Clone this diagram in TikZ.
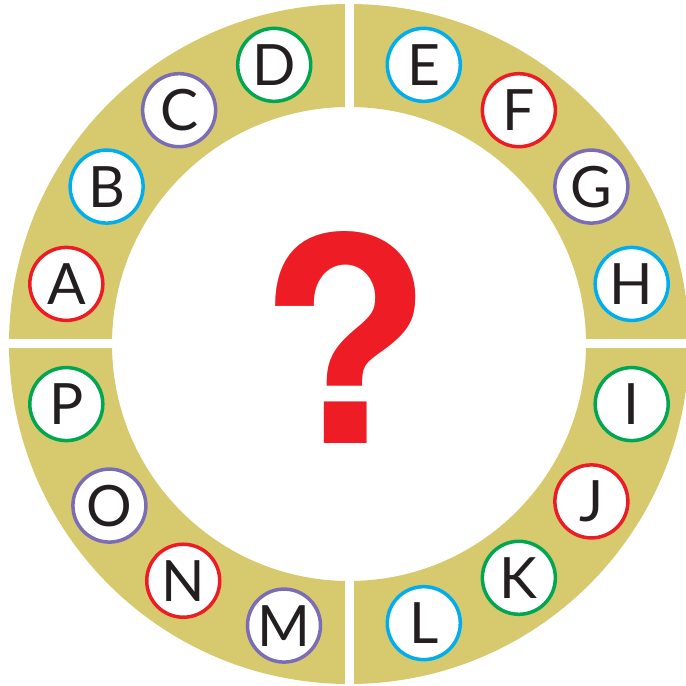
\documentclass[tikz,border=0pt]{standalone}
\usepackage{fontspec}
\setmainfont{Lato}
\newfontfamily\qfont{TeX Gyre Heros}
\definecolor{ringcol}{HTML}{D6C96E}
\definecolor{bred}{HTML}{ED1C24}
\definecolor{bgreen}{HTML}{00A651}
\definecolor{bblue}{HTML}{00AEEF}
\definecolor{bpurple}{HTML}{7B6DB5}
\definecolor{letter}{HTML}{231F20}
\definecolor{qred}{HTML}{EE1D25}
\tikzset{
  badge/.style={circle, draw=#1, fill=white, line width=3.5pt, minimum size=73pt, inner sep=0pt,
    text=letter, font=\fontsize{57}{57}\selectfont},
}
\begin{document}
\begin{tikzpicture}[x=1pt,y=1pt]
\useasboundingbox (0,0) rectangle (686,686);
\clip (0,0) rectangle (686,686);
\coordinate (C) at (349,342);
\fill[ringcol, even odd rule] (C) circle (340) (C) circle (237);
\fill[white] (344.5,0) rectangle (353.5,686);
\fill[white] (0,337.7) rectangle (686,346.7);
\foreach \ang/\lab/\col in {168/A/bred, 147/B/bblue, 126/C/bpurple, 105/D/bgreen,
  75/E/bblue, 54/F/bred, 33/G/bpurple, 12/H/bblue,
  -12/I/bgreen, -33/J/bred, -54/K/bgreen, -75/L/bblue,
  -103/M/bpurple, -125/N/bred, -146/O/bpurple, -168/P/bgreen}
  \node[badge=\col] (n\lab) at ([shift={(C)}]\ang:289) {\lab};
\node[text=qred, inner sep=0pt, font=\qfont\bfseries\fontsize{285}{285}\selectfont] (q) at (346,349) {?};
\end{tikzpicture}
\end{document}
